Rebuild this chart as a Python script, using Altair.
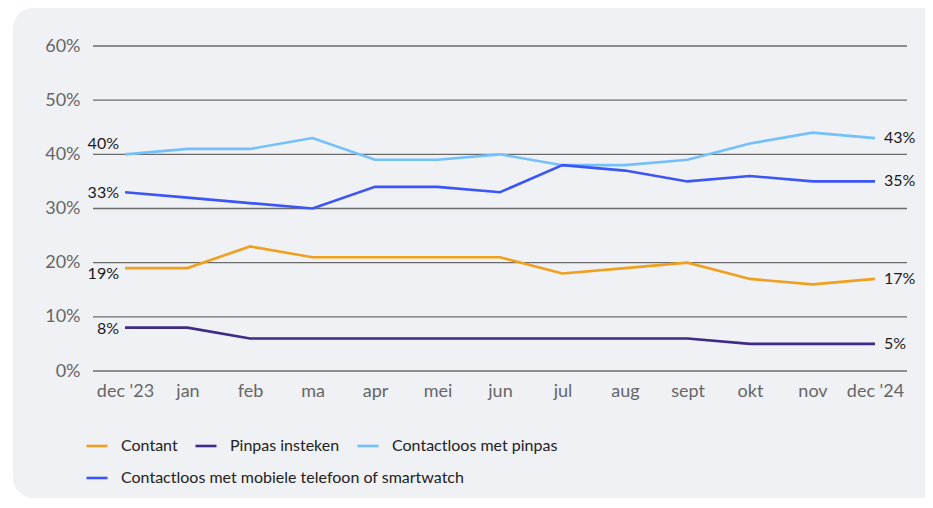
import altair as alt
import pandas as pd

months = ["dec '23", "jan", "feb", "ma", "apr", "mei", "jun", "jul", "aug", "sept", "okt", "nov", "dec '24"]
contant = [19, 19, 23, 21, 21, 21, 21, 18, 19, 20, 17, 16, 17]
pinpas_insteken = [8, 8, 6, 6, 6, 6, 6, 6, 6, 6, 5, 5, 5]
contactloos_pinpas = [40, 41, 41, 43, 39, 39, 40, 38, 38, 39, 42, 44, 43]
contactloos_mobiel = [33, 32, 31, 30, 34, 34, 33, 38, 37, 35, 36, 35, 35]
series = ["Contant", "Pinpas insteken", "Contactloos met pinpas",
          "Contactloos met mobiele telefoon of smartwatch"]
colors = ["#EFA01E", "#3F2A85", "#74C0FA", "#3C56F5"]
y_ticks = [0, 0.1, 0.2, 0.3, 0.4, 0.5, 0.6]

rows = []
for name, vals in zip(series, [contant, pinpas_insteken, contactloos_pinpas, contactloos_mobiel]):
    for i, (m, v) in enumerate(zip(months, vals)):
        rows.append({"maand": m, "serie": name, "waarde": v / 100, "idx": i})
df = pd.DataFrame(rows)
grid_df = pd.DataFrame({"waarde": y_ticks})

FONT = "Lato"

x_enc = alt.X("maand:O", sort=months,
              scale=alt.Scale(type="point", padding=0.512),
              axis=alt.Axis(title=None, labelAngle=0, domain=False, ticks=False, grid=False,
                            labelPadding=11, labelFontSize=18, labelColor="#666666",
                            labelFont=FONT, zindex=1))
y_enc = alt.Y("waarde:Q", scale=alt.Scale(domain=[0, 0.6]),
              axis=alt.Axis(title=None, format=".0%", values=y_ticks, domain=False, ticks=False,
                            grid=False, labelPadding=13, labelFontSize=18,
                            labelColor="#666666", labelFont=FONT, zindex=1))

base = alt.Chart(df)

panel = alt.Chart(pd.DataFrame({"a": [0]})).mark_rect(
    color="#f0f1f5", cornerRadius=20
).encode(x=alt.value(-80), x2=alt.value(880), y=alt.value(-38), y2=alt.value(452))

gridlines = alt.Chart(grid_df).mark_rule(color="#6b6b6b", strokeWidth=1.3).encode(
    y=alt.Y("waarde:Q"), x=alt.value(0), x2=alt.value(814))

legend_common = dict(title=None, orient="none", direction="horizontal", symbolType="stroke",
                     symbolStrokeWidth=2.6, symbolSize=441, labelFontSize=16,
                     labelColor="#222222", labelFont=FONT, labelOffset=12,
                     columnPadding=12, labelLimit=0, legendX=-8)

lines_a = base.transform_filter(
    alt.FieldOneOfPredicate(field="serie", oneOf=series[:3])
).mark_line(strokeWidth=2.6).encode(
    x=x_enc, y=y_enc,
    color=alt.Color("serie:N", scale=alt.Scale(domain=series[:3], range=colors[:3]),
                    legend=alt.Legend(legendY=388, **legend_common)),
    order=alt.Order("idx:Q"),
)
lines_b = base.transform_filter(
    alt.FieldOneOfPredicate(field="serie", oneOf=series[3:])
).mark_line(strokeWidth=2.6).encode(
    x=x_enc, y=y_enc,
    color=alt.Color("serie:N", scale=alt.Scale(domain=series[3:], range=colors[3:]),
                    legend=alt.Legend(legendY=420, **legend_common)),
    order=alt.Order("idx:Q"),
)

txt = dict(fontSize=16, font=FONT, color="#1a1a1a", baseline="middle")
lbl_x = alt.X("maand:O", sort=months)
lbl_y = alt.Y("waarde:Q")
lbl_text = alt.Text("waarde:Q", format=".0%")

left_top = base.transform_filter(
    (alt.datum.idx == 0) & (alt.datum.serie == "Contactloos met pinpas")
).mark_text(align="right", dx=-6, dy=-10, **txt).encode(x=lbl_x, y=lbl_y, text=lbl_text)
left_low = base.transform_filter(
    (alt.datum.idx == 0) & (alt.datum.serie == "Contant")
).mark_text(align="right", dx=-6, dy=6, **txt).encode(x=lbl_x, y=lbl_y, text=lbl_text)
left_mid = base.transform_filter(
    (alt.datum.idx == 0) & (alt.datum.serie != "Contant") & (alt.datum.serie != "Contactloos met pinpas")
).mark_text(align="right", dx=-6, dy=1, **txt).encode(x=lbl_x, y=lbl_y, text=lbl_text)
right = base.transform_filter(alt.datum.idx == len(months) - 1).mark_text(
    align="left", dx=9, dy=0, **txt).encode(x=lbl_x, y=lbl_y, text=lbl_text)

chart = alt.layer(panel, gridlines, lines_a, lines_b, left_top, left_low, left_mid, right).resolve_scale(
    color="independent"
).properties(
    width=814, height=325,
    autosize=alt.AutoSizeParams(type="none"),
    padding={"left": 85, "top": 38, "right": 18, "bottom": 127},
    background="white",
).configure_view(stroke=None).configure(font=FONT)

chart.save("out.html", embed_options={"renderer": "svg", "actions": False})
